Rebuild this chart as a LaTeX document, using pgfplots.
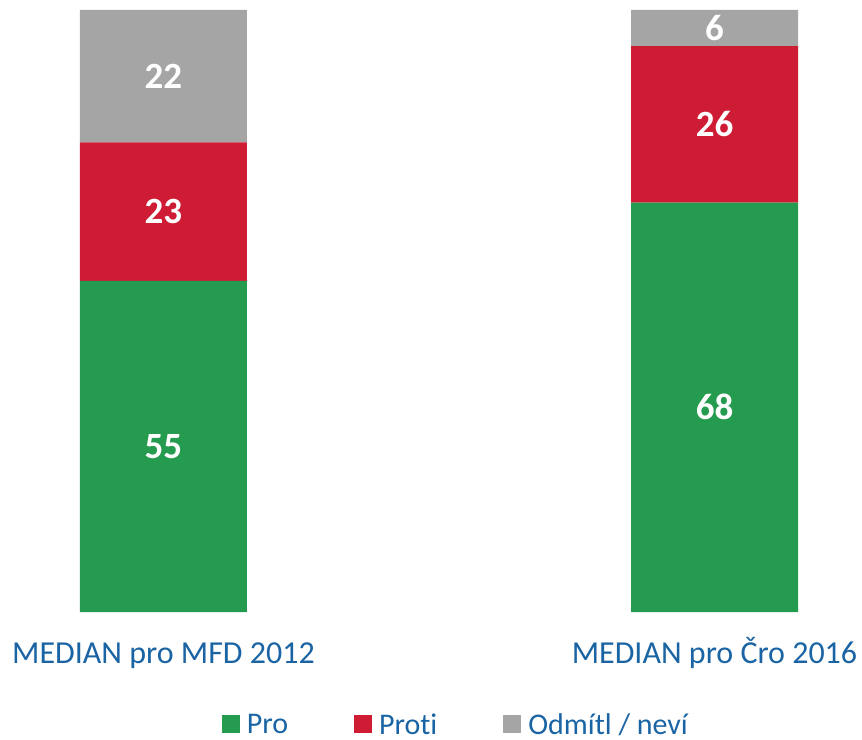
\documentclass[border=0pt]{standalone}
\usepackage{fontspec}
\setmainfont{Carlito}[Ligatures=NoCommon]
\usepackage{pgfplots}
\pgfplotsset{compat=1.18}
\definecolor{cpro}{HTML}{259B4F}
\definecolor{cproti}{HTML}{CE1C35}
\definecolor{cnevi}{HTML}{A5A5A5}
\definecolor{ctext}{HTML}{1A64A4}

\begin{document}
\begin{tikzpicture}[x=1pt,y=1pt]
\begin{axis}[
  name=ax, at={(0,0)}, anchor=south west,
  scale only axis, width=431pt, height=301pt,
  ybar stacked, bar width=83.5pt,
  xmin=-0.2967, xmax=1.2677, ymin=0, ymax=100,
  axis line style={draw=none}, tick style={draw=none},
  ytick=\empty, xtick={0,1},
  xticklabels={MEDIAN pro MFD 2012, MEDIAN pro Čro 2016},
  x tick label style={font=\fontsize{16}{18}\selectfont, text=ctext,
    text height=11.5pt, text depth=3pt, yshift=-10.8pt},
  /pgf/number format/assume math mode=true,
  nodes near coords, point meta=rawy,
  every node near coord/.append style={font=\fontsize{18.5}{20}\selectfont\bfseries,
    text=white, anchor=center},
  legend style={at={(0.530,-0.188)}, anchor=center, draw=none, fill=none,
    font=\fontsize{15}{17}\selectfont, text=ctext, legend columns=3,
    /tikz/every odd column/.append style={column sep=1.5pt},
    /tikz/every even column/.append style={column sep=31pt}},
  legend image code/.code={\fill[#1] (0pt,-4pt) rectangle (9pt,5pt);},
]
\addplot[fill=cpro, draw=none] coordinates {(0,55) (1,68)};
\addplot[fill=cproti, draw=none] coordinates {(0,23) (1,26)};
\addplot[fill=cnevi, draw=none] coordinates {(0,22) (1,6)};
\legend{Pro, Proti, Odmítl / neví}
\end{axis}
\pgfresetboundingbox
\path (0,-63.5) rectangle (431,306);
\end{tikzpicture}
\end{document}
